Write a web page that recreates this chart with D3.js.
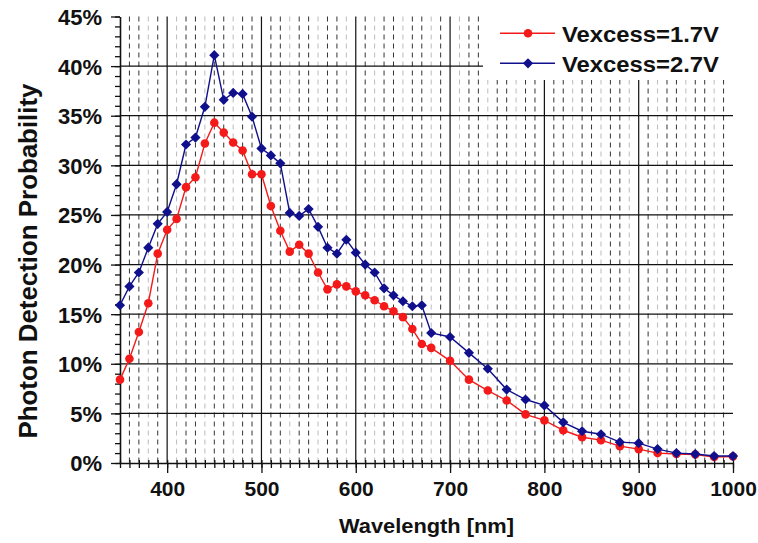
<html lang="en">
<head>
  <meta http-equiv="Content-Type" content="text/html; charset=utf-8" />
  <script src="https://d3js.org/d3.v7.min.js"></script>
  <style>
    body { margin: 0; background: #fff; }
    text { font-family: "Liberation Sans", Arial, sans-serif; font-weight: bold; fill: #111; }
  </style>
</head>
<body>
  <div id="divId"></div>
  <script>
    'use strict';
    const width = 758;
    const height = 543;

    // wavelength [nm]
    const wavelengths = [350, 360, 370, 380, 390, 400, 410, 420, 430, 440, 450, 460, 470, 480, 490,
      500, 510, 520, 530, 540, 550, 560, 570, 580, 590, 600, 610, 620, 630, 640, 650, 660, 670, 680,
      700, 720, 740, 760, 780, 800, 820, 840, 860, 880, 900, 920, 940, 960, 980, 1000];
    // PDE in % for Vexcess = 1.7 V
    const pdeLow = [8.4, 10.5, 13.2, 16.1, 21.1, 23.5, 24.6, 27.8, 28.8, 32.2, 34.3, 33.3, 32.3, 31.5, 29.1,
      29.1, 25.9, 23.4, 21.3, 22.0, 21.1, 19.2, 17.5, 18.0, 17.8, 17.3, 16.9, 16.4, 15.8, 15.3, 14.7, 13.5, 12.0, 11.6,
      10.3, 8.4, 7.3, 6.3, 4.9, 4.3, 3.3, 2.6, 2.3, 1.7, 1.4, 1.0, 0.9, 0.85, 0.6, 0.65];
    // PDE in % for Vexcess = 2.7 V
    const pdeHigh = [15.9, 17.8, 19.2, 21.7, 24.1, 25.3, 28.1, 32.1, 32.8, 35.9, 41.1, 36.6, 37.3, 37.2, 34.9,
      31.7, 31.0, 30.2, 25.2, 24.9, 25.6, 23.8, 21.7, 21.1, 22.5, 21.2, 20.0, 19.2, 17.6, 16.9, 16.3, 15.8, 15.9, 13.1,
      12.7, 11.1, 9.5, 7.4, 6.4, 5.8, 4.1, 3.2, 2.9, 2.1, 2.0, 1.4, 1.0, 0.9, 0.7, 0.7];
    const seriesNames = ["Vexcess=1.7V", "Vexcess=2.7V"];
    const xTicks = [400, 500, 600, 700, 800, 900, 1000];
    const yTicks = [0, 5, 10, 15, 20, 25, 30, 35, 40, 45];

    const plotLeft = 120, plotRight = 733, plotTop = 16.5, plotBottom = 463;
    const x = d3.scaleLinear().domain([350, 1000]).range([plotLeft, plotRight]);
    const y = d3.scaleLinear().domain([0, 45]).range([plotBottom, plotTop]);

    const svg = d3.select("#divId").append("svg")
      .attr("width", width).attr("height", height);

    // grid
    const grid = svg.append("g");
    d3.range(360, 1000, 10).filter(d => d % 100 !== 0).forEach(d => {
      const k = (d - 350) / 10;
      grid.append("line")
        .attr("x1", x(d)).attr("x2", x(d)).attr("y1", plotTop).attr("y2", plotBottom)
        .attr("stroke", k % 3 === 0 ? "#bbb" : "#333")
        .attr("stroke-width", 1)
        .attr("stroke-dasharray", "5,4");
    });
    xTicks.filter(d => d < 1000).forEach(d => {
      grid.append("line")
        .attr("x1", x(d)).attr("x2", x(d)).attr("y1", plotTop).attr("y2", plotBottom)
        .attr("stroke", "#111").attr("stroke-width", 1.2);
    });
    yTicks.filter(d => d > 0 && d < 45).forEach(d => {
      grid.append("line")
        .attr("x1", plotLeft).attr("x2", plotRight).attr("y1", y(d)).attr("y2", y(d))
        .attr("stroke", "#111").attr("stroke-width", 1.2);
    });

    // legend background hides grid
    svg.append("rect")
      .attr("x", 483).attr("y", 0).attr("width", 275).attr("height", 80)
      .attr("fill", "#fff");

    // axes
    const yMinor = svg.append("g").attr("transform", `translate(${plotLeft},0)`)
      .call(d3.axisLeft(y).tickValues(d3.range(0, 46, 1)).tickSize(5).tickSizeOuter(0).tickFormat(""));
    yMinor.select(".domain").remove();
    const yAxis = svg.append("g").attr("transform", `translate(${plotLeft},0)`)
      .call(d3.axisLeft(y).tickValues(yTicks).tickSize(9).tickSizeOuter(0).tickFormat(d => d + "%"));
    yAxis.selectAll("text").attr("x", -18).attr("dy", "0.36em")
      .style("font-size", "22px").style("font-family", "Liberation Sans, Arial");

    const xMinor = svg.append("g").attr("transform", `translate(0,${plotBottom})`)
      .call(d3.axisBottom(x).tickValues(d3.range(350, 1001, 10)).tickSize(5).tickSizeOuter(0).tickFormat(""));
    xMinor.select(".domain").remove();
    xMinor.selectAll("line").attr("y1", -3);
    const xAxis = svg.append("g").attr("transform", `translate(0,${plotBottom})`)
      .call(d3.axisBottom(x).tickValues(xTicks).tickSize(10).tickSizeOuter(0).tickFormat(d3.format("d")));
    xAxis.selectAll("text").attr("y", 33).attr("dy", 0)
      .style("font-size", "21px").style("font-family", "Liberation Sans, Arial");

    svg.selectAll(".domain").attr("stroke", "#111").attr("stroke-width", 1.6);
    svg.selectAll(".tick line").attr("stroke", "#111").attr("stroke-width", 1.3);
    svg.selectAll(".tick text").style("fill", "#111").style("font-weight", "bold");

    // axis titles
    svg.append("text")
      .attr("x", (plotLeft + plotRight) / 2).attr("y", 533)
      .attr("text-anchor", "middle").style("font-size", "21px")
      .attr("textLength", 175).attr("lengthAdjust", "spacingAndGlyphs")
      .text("Wavelength [nm]");
    svg.append("text")
      .attr("transform", "translate(37,261) rotate(-90)")
      .attr("text-anchor", "middle").style("font-size", "25px")
      .attr("textLength", 355).attr("lengthAdjust", "spacingAndGlyphs")
      .text("Photon Detection Probability");

    // series
    const colors = ["#f51a1a", "#10108c"];
    const seriesData = [pdeLow, pdeHigh].map(vals => wavelengths.map((w, i) => [w, vals[i]]));
    const line = d3.line().x(d => x(d[0])).y(d => y(d[1]));
    const diamond = d3.symbol().type(d3.symbolSquare).size(52);

    seriesData.forEach((pts, s) => {
      svg.append("path").datum(pts)
        .attr("fill", "none").attr("stroke", colors[s]).attr("stroke-width", 1.4)
        .attr("d", line);
      if (s === 0) {
        svg.append("g").selectAll("circle").data(pts).join("circle")
          .attr("cx", d => x(d[0])).attr("cy", d => y(d[1])).attr("r", 4.3)
          .attr("fill", colors[s]);
      } else {
        svg.append("g").selectAll("path").data(pts).join("path")
          .attr("transform", d => `translate(${x(d[0])},${y(d[1])}) rotate(45)`)
          .attr("d", diamond).attr("fill", colors[s]);
      }
    });

    // legend
    seriesNames.forEach((name, s) => {
      const ly = 33.3 + s * 30;
      svg.append("line")
        .attr("x1", 500).attr("x2", 555).attr("y1", ly).attr("y2", ly)
        .attr("stroke", colors[s]).attr("stroke-width", 1.4);
      if (s === 0) {
        svg.append("circle").attr("cx", 528).attr("cy", ly).attr("r", 4.3).attr("fill", colors[s]);
      } else {
        svg.append("path").attr("transform", `translate(528,${ly}) rotate(45)`).attr("d", diamond).attr("fill", colors[s]);
      }
      svg.append("text")
        .attr("x", 562).attr("y", ly + 8.2)
        .style("font-size", "22px")
        .attr("textLength", 157).attr("lengthAdjust", "spacingAndGlyphs")
        .text(name);
    });
  </script>
</body>
</html>
